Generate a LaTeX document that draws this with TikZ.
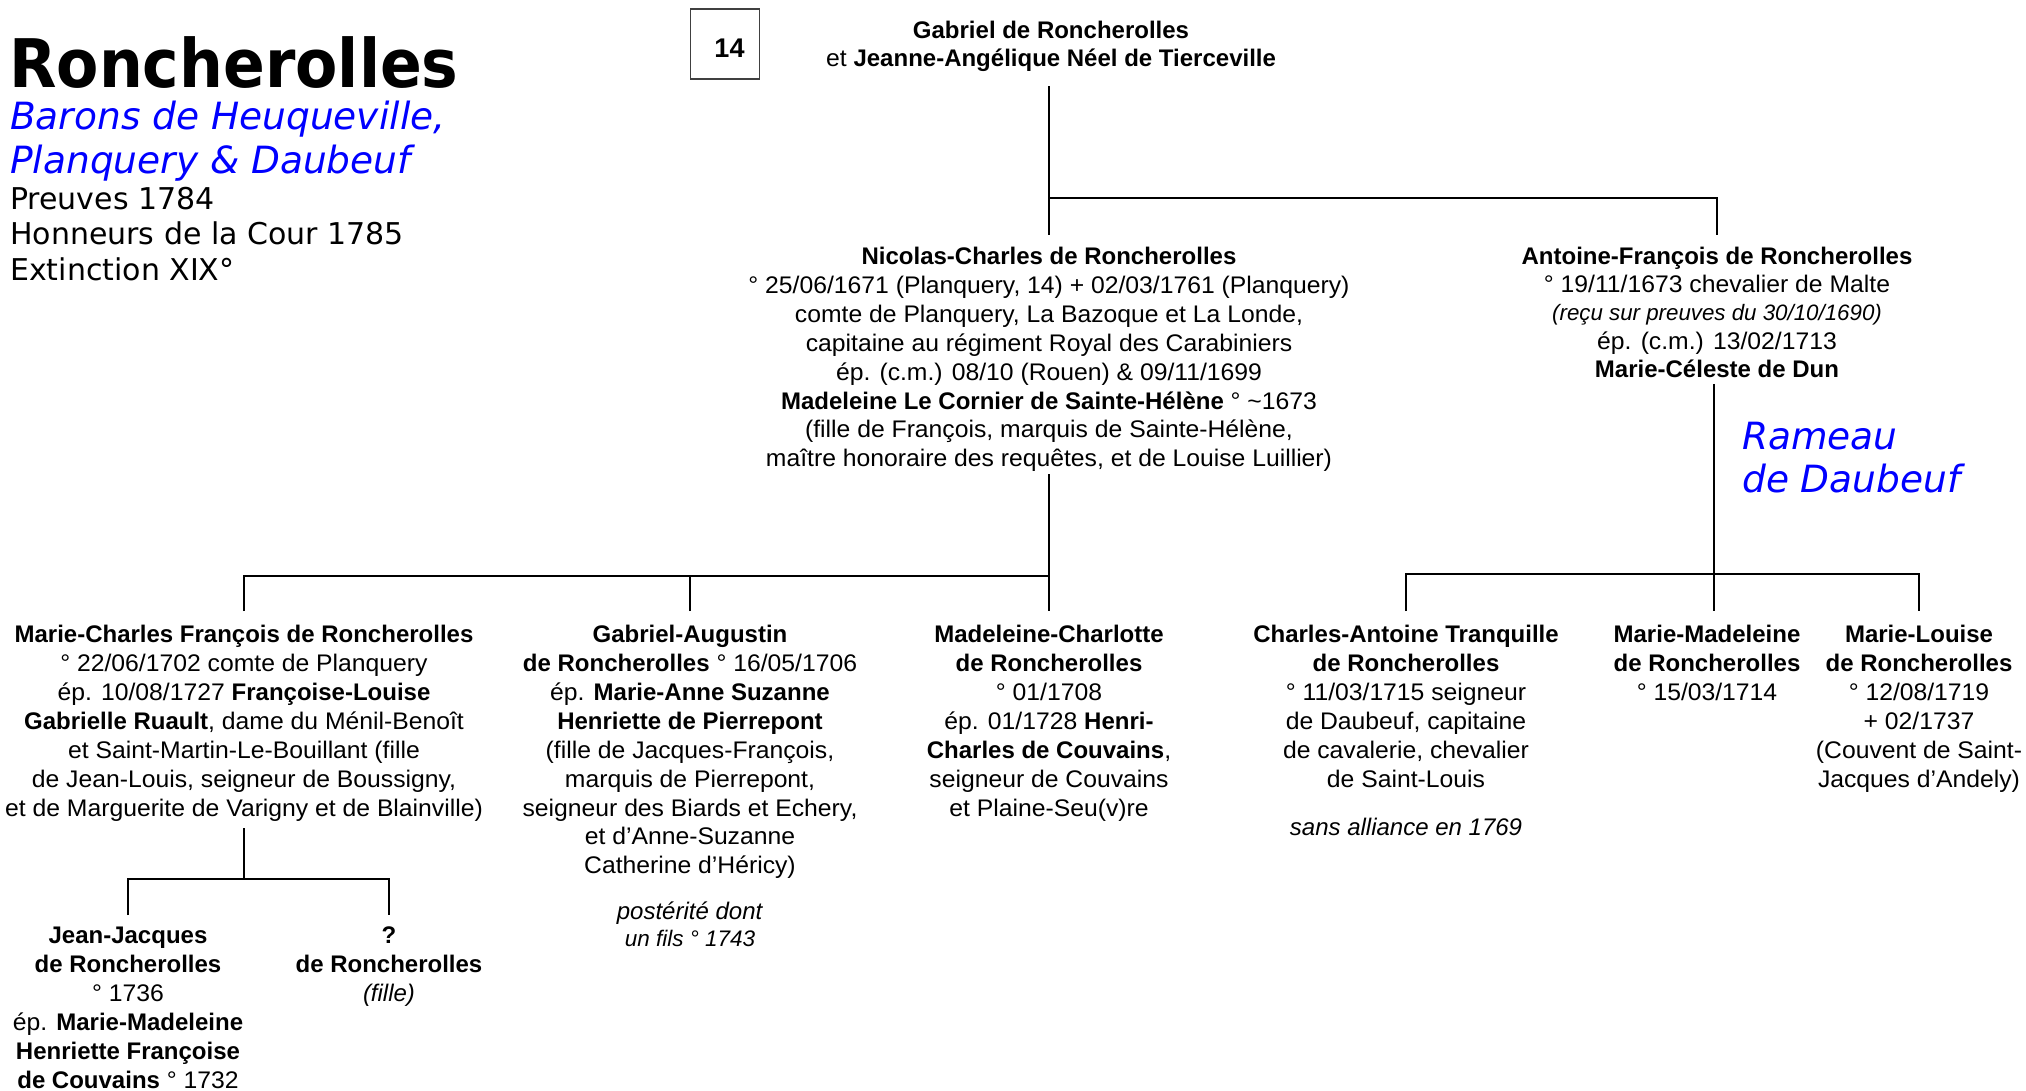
\documentclass[tikz,border=0pt]{standalone}
\usepackage{fontspec}
\setmainfont{Liberation Sans}[UprightFeatures={FakeStretch=1.03}]
\newfontfamily\verd{DejaVu Sans}
\newfontfamily\verdt{DejaVu Sans}[FakeStretch=0.92]
\begin{document}
\begin{tikzpicture}[x=1pt,y=-1pt,
  ln/.style={line width=2.5pt},
  person/.style={anchor=north, inner sep=0pt, align=center, font=\fontsize{24}{28.9}\selectfont},
  left/.style={anchor=north west, inner sep=0pt, align=left}
]
\fill[white] (0,0) rectangle (2026,1090);
\useasboundingbox (0,0) rectangle (2026,1090);

% ---- heading
\node[anchor=base west, inner sep=0pt, font=\verdt\bfseries\fontsize{67}{67}\selectfont] (title) at (9,87) {Roncherolles};
\node[left, text=blue, font=\verd\itshape\fontsize{37.5}{44}\selectfont] (sub) at (10,101) {Barons de Heuqueville,\\Planquery \& Daubeuf};
\node[left, font=\verd\fontsize{30}{35.5}\selectfont] (info) at (10,187) {Preuves 1784\\Honneurs de la Cour 1785\\Extinction XIX°};

\node[draw=black!75, line width=1.3pt, minimum width=69pt, minimum height=70pt, inner sep=0pt,
      text height=26pt, text depth=0pt, font=\bfseries\fontsize{27}{30}\selectfont] (b14) at (725,44) {\hspace*{9pt}14};

% ---- persons
\node[person] (top) at (1051,20.5) {\textbf{Gabriel de Roncherolles}\\ et \textbf{Jeanne-Angélique Néel de Tierceville}};

\node[person] (nic) at (1049,247) {\textbf{Nicolas-Charles de Roncherolles}\\
° 25/06/1671 (Planquery, 14) + 02/03/1761 (Planquery)\\
comte de Planquery, La Bazoque et La Londe,\\
capitaine au régiment Royal des Carabiniers\\
ép. (c.m.) 08/10 (Rouen) \& 09/11/1699\\
\textbf{Madeleine Le Cornier de Sainte-Hélène} ° \textasciitilde1673\\
(fille de François, marquis de Sainte-Hélène,\\
maître honoraire des requêtes, et de Louise Luillier)};

\node[person, font=\fontsize{24}{28.2}\selectfont] (ant) at (1717,247) {\textbf{Antoine-François de Roncherolles}\\
° 19/11/1673 chevalier de Malte\\
{\fontsize{22.3}{28}\selectfont\itshape (reçu sur preuves du 30/10/1690)}\\
ép. (c.m.) 13/02/1713\\
\textbf{Marie-Céleste de Dun}};

\node[left, text=blue, font=\verd\itshape\fontsize{37.5}{43}\selectfont] (rameau) at (1742,422) {Rameau\\de Daubeuf};

\node[person] (mc) at (244,625) {\textbf{Marie-Charles François de Roncherolles}\\
° 22/06/1702 comte de Planquery\\
ép. 10/08/1727 \textbf{Françoise-Louise}\\
\textbf{Gabrielle Ruault}, dame du Ménil-Benoît\\
et Saint-Martin-Le-Bouillant (fille\\
de Jean-Louis, seigneur de Boussigny,\\
et de Marguerite de Varigny et de Blainville)};

\node[person] (ga) at (690,625) {\textbf{Gabriel-Augustin}\\
\textbf{de Roncherolles} ° 16/05/1706\\
ép. \textbf{Marie-Anne Suzanne}\\
\textbf{Henriette de Pierrepont}\\
(fille de Jacques-François,\\
marquis de Pierrepont,\\
seigneur des Biards et Echery,\\
et d’Anne-Suzanne\\
Catherine d’Héricy)\\[17pt]
\textit{postérité dont}\\[-2pt]
{\fontsize{22.5}{26}\selectfont\itshape un fils ° 1743}};

\node[person] (mch) at (1049,625) {\textbf{Madeleine-Charlotte}\\
\textbf{de Roncherolles}\\
° 01/1708\\
ép. 01/1728 \textbf{Henri-}\\
\textbf{Charles de Couvains},\\
seigneur de Couvains\\
et Plaine-Seu(v)re};

\node[person] (cat) at (1406,625) {\textbf{Charles-Antoine Tranquille}\\
\textbf{de Roncherolles}\\
° 11/03/1715 seigneur\\
de Daubeuf, capitaine\\
de cavalerie, chevalier\\
de Saint-Louis\\[19pt]
\textit{sans alliance en 1769}};

\node[person] (mm) at (1707,625) {\textbf{Marie-Madeleine}\\
\textbf{de Roncherolles}\\
° 15/03/1714};

\node[person] (ml) at (1919,625) {\textbf{Marie-Louise}\\
\textbf{de Roncherolles}\\
° 12/08/1719\\
+ 02/1737\\
(Couvent de Saint-\\
Jacques d’Andely)};

\node[person] (jj) at (128,927) {\textbf{Jean-Jacques}\\
\textbf{de Roncherolles}\\
° 1736\\
ép. \textbf{Marie-Madeleine}\\
\textbf{Henriette Françoise}\\
\textbf{de Couvains} ° 1732};

\node[person] (q) at (389,927) {\textbf{?}\\
\textbf{de Roncherolles}\\
\textit{(fille)}};

% ---- junctions
\coordinate (jT) at (1049,198);
\coordinate (jN) at (1049,576);
\coordinate (jA) at (1714,574);
\coordinate (jM) at (244,879);
\path (ant.south -| jA) coordinate (antbot);
\path ([yshift=14pt]mm.north) coordinate (mmtop);

% ---- connectors
\draw[ln] (nic.north |- 0,86) -- ([yshift=12pt]nic.north);
\draw[ln] (jT) -| ([yshift=12pt]ant.north);
\draw[ln] ([yshift=-2pt]nic.south) -- ([yshift=14pt]mch.north);
\draw[ln] ([yshift=14pt]mc.north) |- (jN);
\draw[ln] ([yshift=14pt]ga.north) -- (ga.north |- jN);
\draw[ln] ([yshift=-6pt]antbot) -- (jA);
\draw[ln] ([yshift=14pt]cat.north) |- (ml.north |- jA) -- ([yshift=14pt]ml.north);
\draw[ln] (jA) -- (jA |- mmtop);
\draw[ln] ([yshift=-7pt]mc.south) -- (jM);
\draw[ln] ([yshift=12pt]jj.north) |- (q.north |- jM) -- ([yshift=12pt]q.north);
\end{tikzpicture}
\end{document}
